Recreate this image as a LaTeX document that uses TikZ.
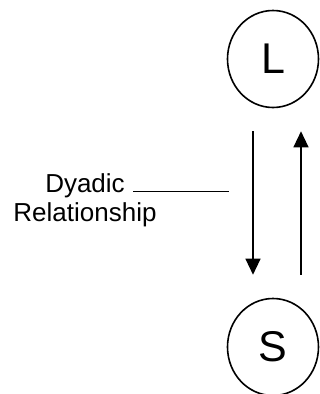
\documentclass[tikz,border=0pt]{standalone}
\usepackage{fontspec}
\setmainfont{Liberation Sans}
\usetikzlibrary{arrows.meta,shapes.geometric}
\begin{document}
\begin{tikzpicture}[x=1pt,y=-1pt,
  party/.style={draw,ellipse,line width=1.6pt,minimum width=91pt,minimum height=97pt,inner sep=0pt,font=\fontsize{43}{43}\selectfont},
  rel/.style={line width=1.3pt,-{Triangle[width=15pt,length=16pt]}},
  lbl/.style={align=center,font=\fontsize{26}{29}\selectfont,inner sep=0pt}]
\useasboundingbox (0,0) rectangle (320,394);
\node[party] (L) at (273,59) {L};
\node[party] (S) at (273,347) {S};
\draw[rel,shorten <=23pt,shorten >=23pt] ([xshift=-20pt]L.south) -- ([xshift=-20pt]S.north);
\draw[rel,shorten <=23pt,shorten >=23pt] ([xshift=28pt]S.north) -- ([xshift=28pt]L.south);
\node[lbl] (txt) at (85,200) {Dyadic\\Relationship};
\coordinate (a) at (133,191);
\coordinate (b) at (229,191);
\draw[line width=1pt] (a) -- (b);
\end{tikzpicture}
\end{document}
